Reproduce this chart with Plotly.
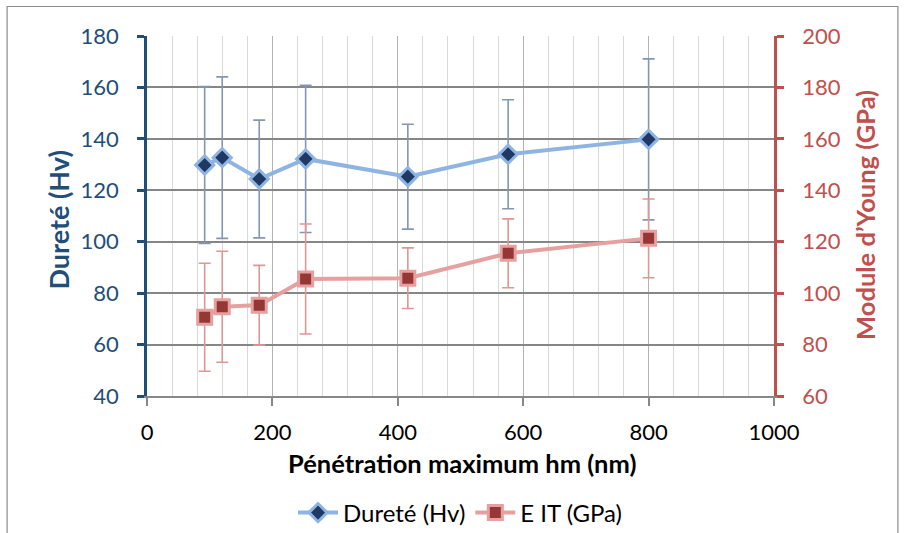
import plotly.graph_objects as go

# Data
penetration_nm = [92, 120, 179, 253, 416, 576, 800]
durete_hv = [129.8, 132.7, 124.4, 132.2, 125.3, 134.0, 139.8]
durete_err = [30.5, 31.4, 22.9, 28.6, 20.4, 21.2, 31.3]
eit_gpa = [90.6, 94.7, 95.3, 105.5, 105.8, 115.5, 121.3]
eit_err = [21.0, 21.6, 15.5, 21.4, 11.8, 13.4, 15.3]

FONT = "Lato"
BLUE_AX = "#1F4E79"
RED_AX = "#C0504D"

# plot area geometry (pixels)
L, R, T, B = 146.5, 774.0, 36.0, 396.0
W, H = 904, 533
PW, PH = R - L, B - T

def px(x):
    return (x - L) / PW

def py(y):
    return (B - y) / PH

fig = go.Figure()

fig.add_trace(go.Scatter(
    x=penetration_nm, y=durete_hv, name="Dureté (Hv)", mode="lines+markers",
    line=dict(color="#8DB4E2", width=4),
    marker=dict(symbol="diamond", size=14, color="#1F3864",
                line=dict(color="#8DB4E2", width=3)),
    error_y=dict(type="data", array=durete_err, visible=True,
                 color="#8497B0", thickness=1.6, width=6),
    yaxis="y",
))

fig.add_trace(go.Scatter(
    x=penetration_nm, y=eit_gpa, name="E IT (GPa)", mode="lines+markers",
    line=dict(color="#E6A0A0", width=4),
    marker=dict(symbol="square", size=14, color="#953735",
                line=dict(color="#E6A0A0", width=3)),
    error_y=dict(type="data", array=eit_err, visible=True,
                 color="#E09694", thickness=1.6, width=6),
    yaxis="y2",
))

fig.update_layout(
    width=W, height=H,
    margin=dict(l=L, r=W - R, t=T, b=H - B, pad=0, autoexpand=False),
    paper_bgcolor="white", plot_bgcolor="white",
    font=dict(family=FONT, size=22, color="black"),
    showlegend=True,
    legend=dict(orientation="h", x=0.5, xanchor="center",
                yref="container", y=(H - 513) / H, yanchor="middle",
                font=dict(family=FONT, size=24, color="black"), itemwidth=40,
                tracegroupgap=0),
    xaxis=dict(
        range=[0, 1000], dtick=200, tick0=0,
        showgrid=True, gridcolor="#B3B3B3", gridwidth=1.4,
        minor=dict(dtick=40, tick0=0, showgrid=True, gridcolor="#D9D9D9", gridwidth=1.4),
        showline=True, linecolor="#888888", linewidth=1.5,
        ticks="outside", ticklen=8, tickcolor="#888888", tickwidth=1.5,
        tickfont=dict(family=FONT, size=22, color="black"),
        ticklabelstandoff=8,
        zeroline=False,
    ),
    yaxis=dict(
        range=[40, 180], dtick=20, tick0=40,
        showgrid=True, gridcolor="#868686", gridwidth=1.6,
        showline=True, linecolor=BLUE_AX, linewidth=2.5,
        ticks="outside", ticklen=7, tickcolor=BLUE_AX, tickwidth=2.5,
        tickfont=dict(family=FONT, size=22, color=BLUE_AX),
        ticklabelstandoff=14,
        zeroline=False,
    ),
    yaxis2=dict(
        range=[60, 200], dtick=20, tick0=60,
        overlaying="y", side="right",
        showgrid=False,
        showline=True, linecolor=RED_AX, linewidth=2.5,
        ticks="outside", ticklen=7, tickcolor=RED_AX, tickwidth=2.5,
        tickfont=dict(family=FONT, size=22, color=RED_AX),
        ticklabelstandoff=14,
        zeroline=False,
    ),
    annotations=[
        dict(text="<b>Pénétration maximum hm (nm)</b>", xref="paper", yref="paper",
             x=px(462), y=py(463), xanchor="center", yanchor="middle", showarrow=False,
             font=dict(family=FONT, size=25.5, color="black")),
        dict(text="<b>Dureté (Hv)</b>", xref="paper", yref="paper",
             x=px(57), y=py(220), xanchor="center", yanchor="middle", showarrow=False,
             textangle=-90, font=dict(family=FONT, size=27, color=BLUE_AX)),
        dict(text="<b>Module d’Young (GPa)</b>", xref="paper", yref="paper",
             x=px(865), y=py(215), xanchor="center", yanchor="middle", showarrow=False,
             textangle=-90, font=dict(family=FONT, size=25.5, color=RED_AX)),
    ],
    shapes=[
        dict(type="rect", xref="paper", yref="paper",
             x0=px(6.5), x1=px(898), y0=py(545), y1=py(6.5),
             line=dict(color="#8C8C8C", width=1.2), fillcolor="rgba(0,0,0,0)", layer="below"),
    ],
)

fig.write_html("out.html", config={"displayModeBar": False},
               post_script="document.body.style.margin='0px';document.body.style.overflow='hidden';")
